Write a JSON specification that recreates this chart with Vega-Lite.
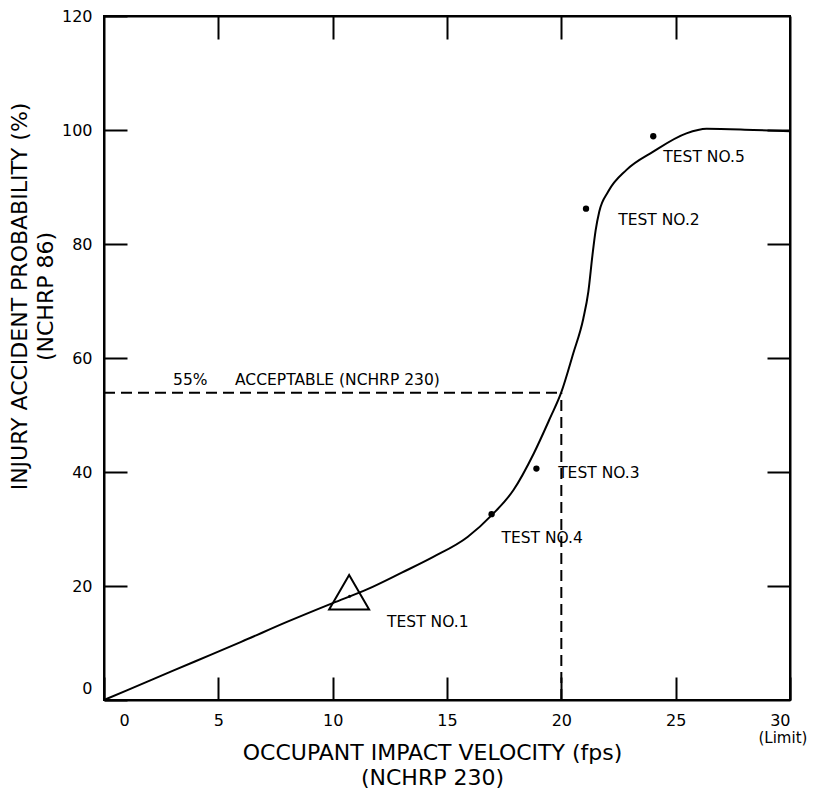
{
  "$schema": "https://vega.github.io/schema/vega-lite/v6.json",
  "width": 686,
  "height": 684,
  "autosize": {"type": "none"},
  "padding": {"left": 104, "top": 16, "right": 29, "bottom": 89},
  "background": "white",
  "config": {
    "view": {"stroke": "black", "strokeWidth": 2},
    "font": "DejaVu Sans",
    "axis": {
      "grid": false,
      "domainColor": "black",
      "domainWidth": 2,
      "tickColor": "black",
      "tickWidth": 2,
      "tickSize": -23,
      "labelColor": "black",
      "labelFont": "DejaVu Sans",
      "labelFontSize": 16,
      "titleColor": "black",
      "titleFont": "DejaVu Sans",
      "titleFontWeight": "normal",
      "titleFontSize": 22
    }
  },
  "datasets": {
    "curve": [
      {"v": 0, "p": 0},
      {"v": 2, "p": 3.4},
      {"v": 4, "p": 6.8},
      {"v": 6, "p": 10.2},
      {"v": 8, "p": 13.7},
      {"v": 10, "p": 17.0},
      {"v": 11.5, "p": 19.4},
      {"v": 13, "p": 22.3},
      {"v": 14.4, "p": 25.1},
      {"v": 15.9, "p": 28.6},
      {"v": 17, "p": 32.6},
      {"v": 17.9, "p": 36.8},
      {"v": 18.8, "p": 43.3},
      {"v": 19.5, "p": 49.4},
      {"v": 20, "p": 54},
      {"v": 20.52, "p": 60.8},
      {"v": 20.96, "p": 66.9},
      {"v": 21.18, "p": 71.6},
      {"v": 21.36, "p": 78.0},
      {"v": 21.5, "p": 82.4},
      {"v": 21.66, "p": 85.7},
      {"v": 22.05, "p": 89.2},
      {"v": 22.85, "p": 93.0},
      {"v": 24.02, "p": 96.2},
      {"v": 25.47, "p": 99.4},
      {"v": 26.35, "p": 100.2},
      {"v": 28.4, "p": 100},
      {"v": 30, "p": 99.8}
    ],
    "guides": [
      {"v": 0, "v2": 20, "p": 53.9, "p2": 53.9},
      {"v": 20, "v2": 20, "p": 0, "p2": 53.9}
    ],
    "tests": [
      {"v": 21.08, "p": 86.2, "kind": "big"},
      {"v": 18.91, "p": 40.6, "kind": "big"},
      {"v": 16.95, "p": 32.6, "kind": "big"},
      {"v": 24.02, "p": 98.9, "kind": "big"},
      {"v": 10.74, "p": 18.2, "kind": "small"}
    ],
    "triangle": [
      {"v": 10.72, "p": 18.9}
    ],
    "labels": [
      {"v": 12.38, "p": 13.6, "text": "TEST NO.1"},
      {"v": 17.38, "p": 28.5, "text": "TEST NO.4"},
      {"v": 19.86, "p": 39.9, "text": "TEST NO.3"},
      {"v": 22.49, "p": 84.2, "text": "TEST NO.2"},
      {"v": 24.46, "p": 95.3, "text": "TEST NO.5"},
      {"v": 3.02, "p": 56.1, "text": "55%"},
      {"v": 5.73, "p": 56.1, "text": "ACCEPTABLE (NCHRP 230)"}
    ],
    "limit": [
      {"v": 29.69, "p": -6.6, "text": "(Limit)"}
    ]
  },
  "resolve": {"axis": {"x": "independent", "y": "independent"}},
  "layer": [
    {
      "data": {"name": "curve"},
      "mark": {"type": "line", "color": "black", "strokeWidth": 2, "interpolate": "monotone"},
      "encoding": {
        "x": {
          "field": "v", "type": "quantitative",
          "scale": {"domain": [0, 30], "nice": false},
          "axis": {
            "orient": "bottom",
            "values": [0, 5, 10, 15, 20, 25, 30],
            "labelPadding": 35,
            "labelOffset": {"condition": {"test": "datum.value == 0", "value": 15}, "value": 0},
            "title": ["OCCUPANT IMPACT VELOCITY (fps)", "(NCHRP 230)"],
            "titleX": 328,
            "titleLineHeight": 25,
            "titlePadding": 14
          }
        },
        "y": {
          "field": "p", "type": "quantitative",
          "scale": {"domain": [0, 120], "nice": false},
          "axis": {
            "orient": "left",
            "values": [0, 20, 40, 60, 80, 100, 120],
            "labelPadding": 35,
            "labelOffset": {"condition": {"test": "datum.value == 0", "value": -12}, "value": 0},
            "title": ["INJURY ACCIDENT PROBABILITY (%)", "(NCHRP 86)"],
            "titleY": 280,
            "titleLineHeight": 26,
            "titlePadding": 4
          }
        }
      }
    },
    {
      "data": {"name": "guides"},
      "mark": {"type": "rule", "color": "black", "strokeWidth": 2, "strokeDash": [11, 6]},
      "encoding": {
        "x": {
          "field": "v", "type": "quantitative",
          "axis": {"orient": "top", "values": [5, 10, 15, 20, 25], "labels": false, "title": null}
        },
        "x2": {"field": "v2"},
        "y": {
          "field": "p", "type": "quantitative",
          "axis": {"orient": "right", "values": [20, 40, 60, 80, 100], "labels": false, "title": null}
        },
        "y2": {"field": "p2"}
      }
    },
    {
      "data": {"name": "tests"},
      "mark": {"type": "circle", "color": "black", "opacity": 1},
      "encoding": {
        "x": {"field": "v", "type": "quantitative", "axis": null},
        "y": {"field": "p", "type": "quantitative", "axis": null},
        "size": {"field": "kind", "type": "nominal", "scale": {"domain": ["big", "small"], "range": [40, 9]}, "legend": null}
      }
    },
    {
      "data": {"name": "triangle"},
      "mark": {"type": "point", "shape": "triangle-up", "size": 1600, "filled": false, "stroke": "black", "strokeWidth": 2, "opacity": 1},
      "encoding": {
        "x": {"field": "v", "type": "quantitative", "axis": null},
        "y": {"field": "p", "type": "quantitative", "axis": null}
      }
    },
    {
      "data": {"name": "labels"},
      "mark": {"type": "text", "align": "left", "baseline": "middle", "fontSize": 15.5, "color": "black", "font": "DejaVu Sans"},
      "encoding": {
        "x": {"field": "v", "type": "quantitative", "axis": null},
        "y": {"field": "p", "type": "quantitative", "axis": null},
        "text": {"field": "text"}
      }
    },
    {
      "data": {"name": "limit"},
      "mark": {"type": "text", "align": "center", "baseline": "middle", "fontSize": 15, "color": "black", "font": "DejaVu Sans"},
      "encoding": {
        "x": {"field": "v", "type": "quantitative", "axis": null},
        "y": {"field": "p", "type": "quantitative", "axis": null},
        "text": {"field": "text"}
      }
    }
  ]
}
